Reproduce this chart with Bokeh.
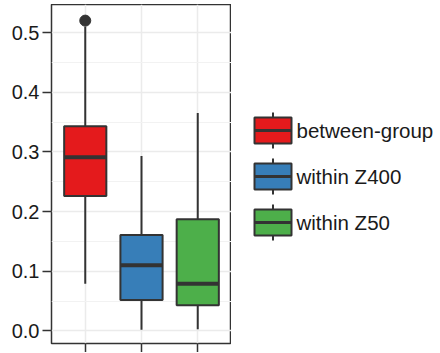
from bokeh.plotting import figure
from bokeh.layouts import row
from bokeh.models import Range1d, FixedTicker, NumeralTickFormatter, ColumnDataSource
from bokeh.core.properties import value
from bokeh.embed import file_html
from bokeh.resources import INLINE

# ---- data ----
groups = ["between-group", "within Z400", "within Z50"]
colors = ["#E41A1C", "#377EB8", "#4DAF4A"]
lower = [0.079, 0.002, 0.003]
q1 = [0.226, 0.052, 0.043]
median = [0.291, 0.110, 0.079]
q3 = [0.343, 0.161, 0.187]
upper = [0.510, 0.293, 0.365]
outlier_group = ["between-group"]
outlier_value = [0.520]
y_ticks = [0.0, 0.1, 0.2, 0.3, 0.4, 0.5]
y_minor = [0.05, 0.15, 0.25, 0.35, 0.45]

BORDER = "#333333"
FONT = "Liberation Sans"

xs = [i + 1 for i in range(len(groups))]
half = 0.375
src = ColumnDataSource(dict(
    x=xs, xl=[x - half for x in xs], xr=[x + half for x in xs],
    lower=lower, q1=q1, median=median, q3=q3, upper=upper, color=colors,
))
out_src = ColumnDataSource(dict(
    x=[groups.index(g) + 1 for g in outlier_group], y=outlier_value,
))

p = figure(frame_width=180, frame_height=339,
           x_range=Range1d(0.4, 3.6), y_range=Range1d(-0.021, 0.547),
           output_backend="svg", toolbar_location=None,
           min_border_left=44, min_border_right=0, min_border_top=0, min_border_bottom=9)
p.outline_line_color = BORDER
p.outline_line_width = 1.5
p.background_fill_color = "white"
p.border_fill_color = "white"

# axes
p.yaxis.ticker = FixedTicker(ticks=y_ticks, minor_ticks=y_minor)
p.yaxis.formatter = NumeralTickFormatter(format="0.0")
p.xaxis.ticker = FixedTicker(ticks=xs)
for ax in (p.xaxis[0], p.yaxis[0]):
    ax.axis_line_color = None
    ax.major_tick_out = 9
    ax.major_tick_in = 0
    ax.major_tick_line_color = BORDER
    ax.major_tick_line_width = 1.5
    ax.minor_tick_line_color = None
p.yaxis.major_label_text_font = FONT
p.yaxis.major_label_text_font_size = "20px"
p.yaxis.major_label_text_color = "#1a1a1a"
p.yaxis.major_label_standoff = 3
p.xaxis.major_label_overrides = {x: "" for x in xs}
p.xaxis.major_label_standoff = 0

# grid
p.ygrid.grid_line_color = "#ebebeb"
p.ygrid.grid_line_width = 1.5
p.ygrid.minor_grid_line_color = "#f2f2f2"
p.ygrid.minor_grid_line_width = 1
p.xgrid.grid_line_color = "#ebebeb"
p.xgrid.grid_line_width = 1.5

# boxes
p.segment(x0="x", x1="x", y0="lower", y1="q1", source=src, line_color=BORDER, line_width=2)
p.segment(x0="x", x1="x", y0="q3", y1="upper", source=src, line_color=BORDER, line_width=2)
p.vbar(x="x", width=2 * half, bottom="q1", top="q3", source=src,
       fill_color="color", line_color=BORDER, line_width=2)
p.segment(x0="xl", x1="xr", y0="median", y1="median", source=src, line_color=BORDER, line_width=4)
p.scatter(x="x", y="y", source=out_src, size=11, color=BORDER)

# ---- legend panel ----
LW, LH = 206, 348
lg = figure(frame_width=LW, frame_height=LH, x_range=Range1d(0, LW), y_range=Range1d(LH, 0),
            output_backend="svg", toolbar_location=None,
            min_border_left=0, min_border_right=0, min_border_top=0, min_border_bottom=0)
lg.axis.visible = False
lg.grid.visible = False
lg.outline_line_color = None
lg.background_fill_color = "white"
lg.border_fill_color = "white"

key_y0, key_step = 126, 46
key_x0, key_x1 = 23, 60
key_cx = (key_x0 + key_x1) / 2
cy = [key_y0 + key_step * i for i in range(len(groups))]
lsrc = ColumnDataSource(dict(
    cy=cy, top=[c - 13 for c in cy], bot=[c + 13 for c in cy],
    wt=[c - 18 for c in cy], wb=[c + 18 for c in cy],
    color=colors, label=groups,
))
lg.segment(x0=key_cx, x1=key_cx, y0="wt", y1="wb", source=lsrc, line_color=BORDER, line_width=2)
lg.quad(left=key_x0, right=key_x1, top="top", bottom="bot", source=lsrc,
        fill_color="color", line_color=BORDER, line_width=2)
lg.segment(x0=key_x0, x1=key_x1, y0="cy", y1="cy", source=lsrc, line_color=BORDER, line_width=3)
lg.text(x=key_x1 + 5, y="cy", text="label", source=lsrc, text_baseline="middle",
        text_font=value(FONT), text_font_size="20.5px", text_color="#1a1a1a")

layout = row(p, lg, margin=(4, 0, 0, 7))
open("out.html", "w").write(file_html(layout, INLINE))
